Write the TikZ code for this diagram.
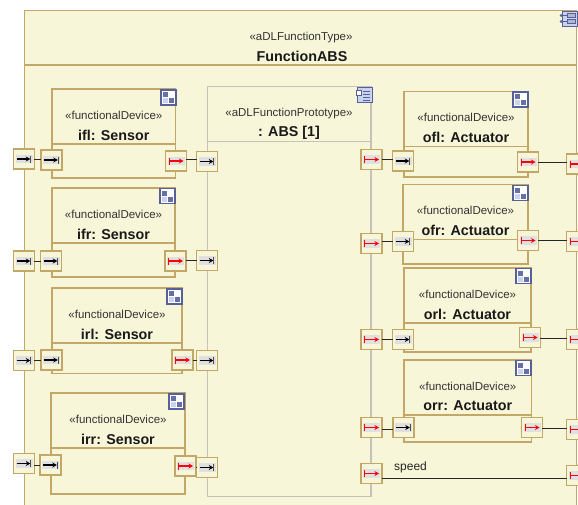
\documentclass[tikz,border=0pt]{standalone}
\usepackage{fontspec}
\setmainfont{Liberation Sans}
\usetikzlibrary{arrows.meta}
\definecolor{paper}{HTML}{F8F6D8}
\definecolor{gold}{HTML}{C2A766}
\definecolor{greyline}{HTML}{C4C2BA}
\definecolor{iconblue}{HTML}{56609A}
\definecolor{iconlight}{HTML}{C9D2EE}
\tikzset{
  boxshape/.style={draw=gold,line width=1.4pt,fill=paper,inner sep=0pt,outer sep=0pt},
  protoshape/.style={boxshape,draw=greyline},
  portshape/.style={draw=gold,line width=1.5pt,fill=paper,inner sep=0pt,outer sep=0pt},
  stereo/.style={font=\fontsize{11.5}{12}\selectfont,text=black!80,inner sep=0pt},
  title/.style={font=\fontsize{14.3}{15}\selectfont\bfseries,text=black!90,inner sep=0pt},
  wire/.style={draw=black!85,line width=1pt},
}
\newcommand{\rectnode}[6]{%
  \node[#6,minimum width={((#4)-(#2))*1pt},minimum height={((#5)-(#3))*1pt}]
    (#1) at ({((#2)+(#4))/2},{((#3)+(#5))/2}) {};}
\newcommand{\checkicon}[2]{%
  \begin{scope}[shift={(#1,#2)}]
    \fill[white] (0,0) rectangle (15,15);
    \fill[iconblue!90] (2,2) rectangle (7,7);
    \fill[iconblue!90] (8,8) rectangle (13,13);
    \fill[iconlight] (2,8) rectangle (7,13);
    \draw[iconblue,line width=1.3pt] (0,0) rectangle (15,15);
  \end{scope}}
\newcommand{\device}[8]{%
  \rectnode{#1}{#2}{#3}{#4}{#5}{boxshape}
  \draw[gold,line width=1.4pt] (#1.west |- 0,{#3+55}) -- (#1.east |- 0,{#3+55});
  \node[stereo] (#1s) at ({(#2+#4)/2},{#3+26}) {«functionalDevice»};
  \node[title] (#1t) at ({(#2+#4)/2},{#3+46}) {#8};
  \checkicon{#6}{#7}}
\newcommand{\portbase}[3]{%
  \rectnode{#1}{(#2)-10.4}{(#3)-10}{(#2)+10.4}{(#3)+10}{portshape}
  \fill[black!12] ({#2-8.5},{#3-4.3}) rectangle ({#2+8.5},{#3+4.3});}
\newcommand{\portblack}[3]{%
  \portbase{#1}{#2}{#3}
  \draw[black,line width=1.2pt,-{Stealth[length=4.5pt,width=5pt]}] ({#2-7.5},#3) -- ({#2+6.3},#3);
  \draw[black!70,line width=0.9pt] ({#2+6.9},{#3-3.5}) -- ({#2+6.9},{#3+3.5});}
\newcommand{\portred}[3]{%
  \portbase{#1}{#2}{#3}
  \draw[red,line width=1.2pt,-{Stealth[length=4.5pt,width=5pt]}] ({#2-6.5},#3) -- ({#2+7.5},#3);
  \draw[red,line width=0.9pt] ({#2-6.9},{#3-3.5}) -- ({#2-6.9},{#3+3.5});}
\newcommand{\conn}[3]{\draw[wire] (#1.east |- 0,#3) -- (#2.west |- 0,#3);}
\begin{document}
\begin{tikzpicture}[x=1pt,y=-1pt]
\useasboundingbox (0,0) rectangle (578,504);
\clip (0,0) rectangle (578,504);
\fill[white] (0,0) rectangle (578,504);
\rectnode{frame}{24.5}{10.5}{576.5}{530}{boxshape}
\draw[gold,line width=1.4pt] (frame.west |- 0,65) -- (frame.east |- 0,65);
\node[stereo] (frames) at (301,37.5) {«aDLFunctionType»};
\node[title] (framet) at (302,56) {FunctionABS};
\begin{scope}[shift={(562,11)}]
  \fill[iconlight] (0,0) rectangle (15,15);
  \draw[iconblue,line width=1pt] (0,0) rectangle (15,15);
  \draw[iconblue,line width=0.6pt] (-1,4.5) -- (5,4.5) (-1,10.5) -- (5,10.5);
  \draw[iconblue,fill=iconblue!45,line width=0.6pt] (5,2.5) rectangle (13,6.5);
  \draw[iconblue,fill=iconblue!45,line width=0.6pt] (5,8.5) rectangle (13,12.5);
  \fill[iconblue] (-1,4.5) circle (1.5);
  \fill[iconblue] (-1,10.5) circle (1.5);
\end{scope}
\rectnode{abs}{207.5}{86.5}{371}{496.5}{protoshape}
\draw[greyline,line width=1.4pt] (abs.west |- 0,141.5) -- (abs.east |- 0,141.5);
\node[stereo] (abss) at (289,114) {«aDLFunctionPrototype»};
\node[title] (abst) at (289,133) {: ABS [1]};
\begin{scope}[shift={(357,87)}]
  \fill[iconlight] (0,0) rectangle (15,15);
  \draw[iconblue,line width=1pt] (0,0) rectangle (15,15);
  \draw[iconblue,line width=0.8pt] (6,4) -- (13,4) (6,7) -- (13,7) (6,10) -- (13,10) (6,13) -- (13,13);
  \draw[iconblue,fill=white,line width=0.7pt] (-1,3) rectangle (4,8);
\end{scope}
\device{ifl}{52}{89}{175.5}{178}{161}{90}{ifl: Sensor}
\device{ifr}{52}{188}{175}{277}{160}{188.5}{ifr: Sensor}
\device{irl}{52}{288}{182}{373.5}{167}{289}{irl: Sensor}
\device{irr}{51}{393}{185}{494}{169}{394}{irr: Sensor}
\device{ofl}{404}{91.5}{528}{177}{513}{92}{ofl: Actuator}
\device{ofr}{403}{184.5}{528}{264}{513}{185.5}{ofr: Actuator}
\device{orl}{404}{268}{531}{352}{516}{268.5}{orl: Actuator}
\device{orr}{404}{360}{531.5}{442}{516}{360.5}{orr: Actuator}
\portblack{pa1}{24}{159}\portblack{pb1}{51.5}{160}\portred{pc1}{176}{161}\portblack{pd1}{207}{161.5}
\portblack{pa2}{24}{261}\portblack{pb2}{51}{261}\portred{pc2}{175.5}{261}\portblack{pd2}{207}{260.5}
\portblack{pa3}{24}{360.5}\portblack{pb3}{51.5}{360}\portred{pc3}{182.5}{360}\portblack{pd3}{207}{360.5}
\portblack{pa4}{24}{463.5}\portblack{pb4}{50.5}{465}\portred{pc4}{185.5}{466}\portblack{pd4}{207}{467.5}
\portred{qa1}{371.5}{159.5}\portblack{qb1}{403}{161}\portred{qc1}{528}{162}\portred{qd1}{577}{164}
\portred{qa2}{371.5}{243.5}\portblack{qb2}{403}{241.5}\portred{qc2}{528}{240.5}\portred{qd2}{577}{241.5}
\portred{qa3}{371.5}{339.5}\portblack{qb3}{403}{339.5}\portred{qc3}{530}{337.5}\portred{qd3}{577}{339.5}
\portred{qa4}{371.5}{427.5}\portblack{qb4}{403.5}{427.5}\portred{qc4}{532}{427.5}\portred{qd4}{577}{429.5}
\portred{qa5}{371.5}{473.5}\portred{qd5}{577}{475.5}
\conn{pa1}{pb1}{159}\conn{pc1}{pd1}{159}
\conn{pa2}{pb2}{261}\conn{pc2}{pd2}{260}
\conn{pa3}{pb3}{360}\conn{pc3}{pd3}{360}
\conn{pa4}{pb4}{465}\conn{pc4}{pd4}{467}
\conn{qa1}{qb1}{159}\conn{qc1}{qd1}{162.5}
\conn{qa2}{qb2}{241}\conn{qc2}{qd2}{240}
\conn{qa3}{qb3}{339.5}\conn{qc3}{qd3}{338}
\conn{qa4}{qb4}{429}\conn{qc4}{qd4}{428}
\conn{qa5}{qd5}{478}
\node[font=\fontsize{12}{13}\selectfont,text=black!85,inner sep=0pt,anchor=west] (speedlabel) at (394,467) {speed};
\end{tikzpicture}
\end{document}
